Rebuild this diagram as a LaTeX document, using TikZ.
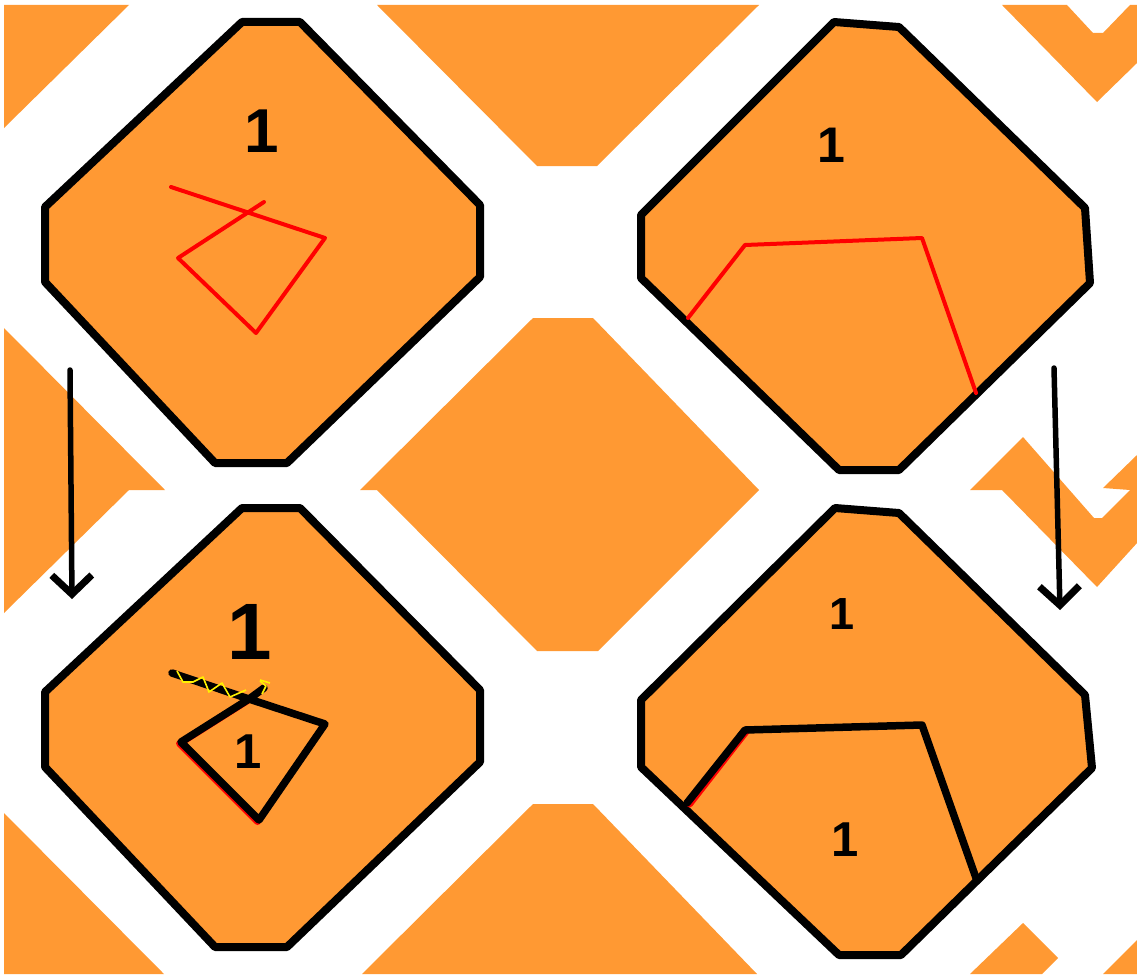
\documentclass[tikz,border=0pt]{standalone}
\usepackage{fontspec}
\setmainfont{Liberation Sans}
\usetikzlibrary{arrows.meta}
\definecolor{tileorange}{RGB}{255,153,51}
\newcommand\digitsize[1]{\fontsize{#1}{#1}\selectfont}

\begin{document}
\begin{tikzpicture}[
  x=1pt, y=-1pt,
  tile/.style={fill=tileorange, draw=none},
  cell/.style={fill=tileorange, draw=black, line width=8pt, line join=round},
  trace/.style={draw=red, line width=4pt, line join=round, line cap=round},
  edge/.style={draw=black, line width=7.5pt, line join=round, line cap=round},
  cut/.style={draw=yellow, line width=1.6pt, line join=round},
  flow/.style={-{Straight Barb[length=19pt, width=40pt, line width=7pt]},
               line width=5.5pt, line cap=round},
  digit/.style={inner sep=0pt, font=\bfseries\digitsize{#1}},
]
  \useasboundingbox (0,0) rectangle (1137,974);

  % background tiles
  \fill[tile] (4,5) -- (129,5) -- (4,128) -- cycle;
  \fill[tile] (377,5) -- (759,5) -- (597,166) -- (537,166) -- cycle;
  \fill[tile] (1002,5) -- (1067,5) -- (1093,33) -- (1103,33) -- (1130,5)
    -- (1137,5) -- (1137,63) -- (1097,102) -- cycle;
  \fill[tile] (4,328) -- (165,490) -- (129,490) -- (4,613) -- cycle;
  \fill[tile] (360,490) -- (533,318) -- (593,318) -- (759,490) -- (598,651)
    -- (537,651) -- (377,490) -- cycle;
  \fill[tile] (970,490) -- (1023,437) -- (1094,518) -- (1102,518) -- (1130,490)
    -- (1103,488) -- (1137,455) -- (1137,543) -- (1097,587) -- (1002,490) -- cycle;
  \fill[tile] (4,813) -- (164,974) -- (4,974) -- cycle;
  \fill[tile] (362,974) -- (533,804) -- (593,804) -- (757,974) -- cycle;
  \fill[tile] (970,974) -- (1023,923) -- (1058,958) -- (1042,974) -- cycle;
  \fill[tile] (1103,974) -- (1137,940) -- (1137,974) -- cycle;

  % the four cells
  \draw[cell] (242,22) -- (300,22) -- (480,205) -- (480,277) -- (287,463)
    -- (215,463) -- (45,282) -- (45,207) -- cycle;
  \draw[cell] (834,22) -- (899,27) -- (1085,208) -- (1090,283) -- (899,470)
    -- (839,470) -- (641,278) -- (641,215) -- cycle;
  \draw[cell] (242,508) -- (300,508) -- (480,690) -- (480,762) -- (287,947)
    -- (215,947) -- (45,767) -- (45,692) -- cycle;
  \draw[cell] (835,508) -- (899,513) -- (1085,695) -- (1092,768) -- (901,955)
    -- (839,955) -- (641,767) -- (641,700) -- cycle;

  % red cuts before
  \draw[trace] (171,187) -- (325,238) -- (256,333) -- (178,258) -- (264,202);
  \draw[trace] (688,318) -- (745,245) -- (922,238) -- (976,393);

  % after: left cell
  \draw[trace, line width=7pt, shift={(-1.5,1.5)}] (249,699) -- (181,742) -- (259,820);
  \draw[edge] (172,673) -- (249,699) -- (325,724) -- (259,820) -- (181,742)
    -- (249,699) -- (264,688);
  \draw[cut] (177,671) -- (183,682) -- (193,682) -- (203,677) -- (209,692)
    -- (222,683) -- (230,697) -- (246,690);
  \draw[cut] (260,680) -- (270,683);
  \draw[cut] (262,694) -- (266,686) -- (260,681);

  % after: right cell
  \draw[trace, line width=7pt, shift={(1.5,1)}] (688,803) -- (745,730);
  \draw[edge] (687,803) -- (745,730) -- (922,725) -- (976,878);

  % labels
  \node[digit=62] (tlone) at (262,131) {1};
  \node[digit=50] (trone) at (831,145) {1};
  \node[digit=80] (blone) at (250,632) {1};
  \node[digit=49] (blinner) at (248,752) {1};
  \node[digit=45] (brone) at (842,614) {1};
  \node[digit=49] (brinner) at (845,840) {1};

  % arrows
  \coordinate (lfrom) at (70,370);
  \coordinate (lto) at (72,599);
  \coordinate (rfrom) at (1054,368);
  \coordinate (rto) at (1060,610);
  \draw[flow] (lfrom) -- (lto);
  \draw[flow] (rfrom) -- (rto);
\end{tikzpicture}
\end{document}
